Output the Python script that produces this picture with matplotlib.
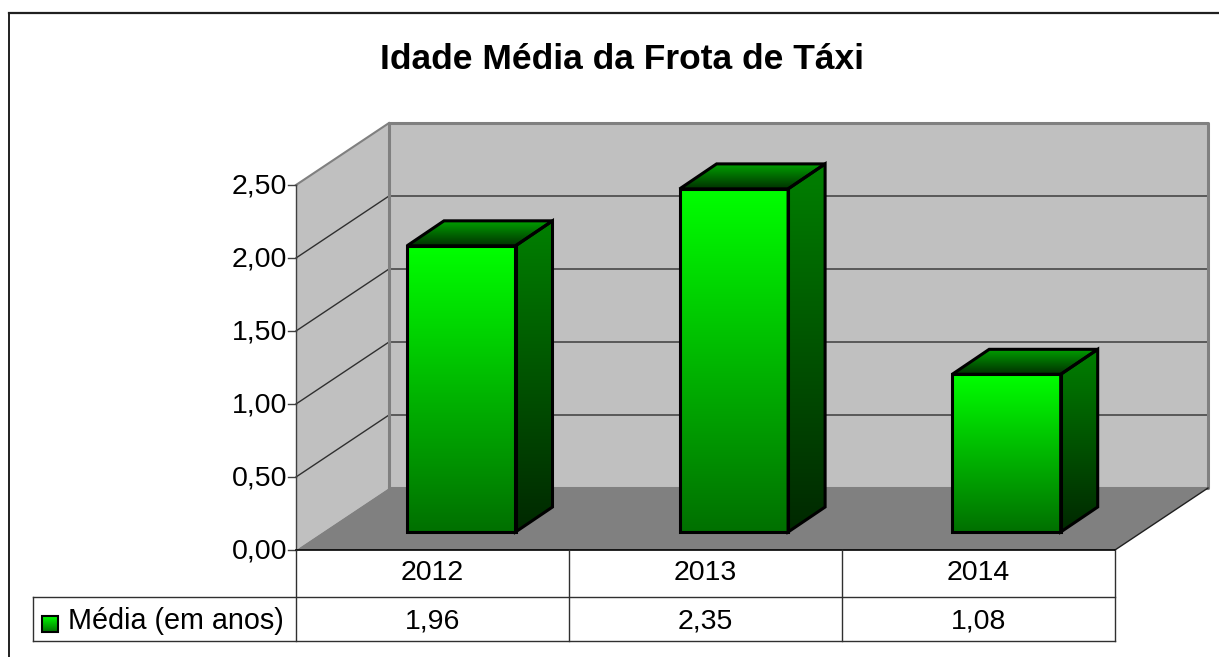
import numpy as np
import matplotlib
matplotlib.use('Agg')
from matplotlib import pyplot as plt
from matplotlib.colors import LinearSegmentedColormap
from matplotlib.patches import Polygon

categories = ['2012', '2013', '2014']
values = [1.96, 2.35, 1.08]
value_labels = ['1,96', '2,35', '1,08']
ticks = [0.0, 0.5, 1.0, 1.5, 2.0, 2.5]
tick_labels = ['0,00', '0,50', '1,00', '1,50', '2,00', '2,50']
series_name = 'Média (em anos)'
title = 'Idade Média da Frota de Táxi'

plt.rcParams['font.family'] = ['Liberation Sans', 'DejaVu Sans']

W, H = 1219, 657
PX_X = 273.0  # pixels per category
PX_Y = 146.0  # pixels per value unit
LEFT, ZERO = 296, 550
FS = 20.5


def dx(px):
    return px / PX_X


def dy(px):
    return px / PX_Y


fig = plt.figure(figsize=(W / 100, H / 100), dpi=100)
ax = fig.add_axes([0, 0, 1, 1])
xlim = (-LEFT / PX_X, (W - LEFT) / PX_X)
ylim = (-(H - ZERO) / PX_Y, ZERO / PX_Y)
ax.axis('off')

# depth of the floor and of the bars
wall_dx, wall_dy = dx(93), dy(62)
bar_dx, bar_dy = dx(37), dy(25)
off_y = dy(18)
bar_w = dx(108.5)
n = len(categories)
top = ticks[-1]

ax.add_patch(Polygon([(0, 0), (wall_dx, wall_dy), (wall_dx, top + wall_dy), (0, top)],
                     fc='#c0c0c0', ec='none', zorder=1))
ax.add_patch(Polygon([(wall_dx, wall_dy), (n + wall_dx, wall_dy), (n + wall_dx, top + wall_dy),
                      (wall_dx, top + wall_dy)], fc='#c0c0c0', ec='none', zorder=1))
ax.add_patch(Polygon([(0, 0), (n, 0), (n + wall_dx, wall_dy), (wall_dx, wall_dy)],
                     fc='#808080', ec='none', zorder=1))

# gridlines
for t in ticks[1:-1]:
    ax.plot([0, wall_dx, n + wall_dx], [t, t + wall_dy, t + wall_dy], color='#303030', lw=1.0, zorder=2)
# wall edges
ax.plot([0, wall_dx], [top, top + wall_dy], color='#808080', lw=1.5, zorder=2)
ax.plot([wall_dx, wall_dx, n + wall_dx, n + wall_dx, wall_dx],
        [wall_dy, top + wall_dy, top + wall_dy, wall_dy, wall_dy],
        color='#808080', lw=2.2, zorder=2)
ax.plot([n, n + wall_dx], [0, wall_dy], color='#202020', lw=1.0, zorder=2)


def grad(poly, c_top, c_bottom, extent, z, lw=2.2):
    cmap = LinearSegmentedColormap.from_list('g', [c_top, c_bottom])
    im = ax.imshow(np.linspace(0, 1, 256).reshape(-1, 1), cmap=cmap, aspect='auto', extent=extent,
                   origin='upper', zorder=z)
    patch = Polygon(poly, transform=ax.transData, fc='none', ec='none')
    ax.add_patch(patch)
    im.set_clip_path(patch)
    ax.add_patch(Polygon(poly, fc='none', ec='black', lw=lw, joinstyle='miter', zorder=z + 0.1))


for i, v in enumerate(values):
    x0 = i + dx(111) - dx(0.4) * i
    x1 = x0 + bar_w
    y0 = off_y
    y1 = off_y + v
    side = [(x1, y0), (x1 + bar_dx, y0 + bar_dy), (x1 + bar_dx, y1 + bar_dy), (x1, y1)]
    roof = [(x0, y1), (x0 + bar_dx, y1 + bar_dy), (x1 + bar_dx, y1 + bar_dy), (x1, y1)]
    front = [(x0, y0), (x1, y0), (x1, y1), (x0, y1)]
    grad(side, '#008000', '#002800', (x1, x1 + bar_dx, y0, y1 + bar_dy), 3 + i)
    grad(roof, '#00a000', '#003000', (x0, x1 + bar_dx, y1, y1 + bar_dy), 3 + i)
    grad(front, '#00ff00', '#007000', (x0, x1, y0, y1), 3 + i)

# value axis
ax.plot([0, 0], [0, top], color='#404040', lw=1.0, zorder=2)
for t, lab in zip(ticks, tick_labels):
    ax.plot([-dx(8), 0], [t, t], color='#404040', lw=1.0, zorder=2)
    ax.text(-dx(9), t + dy(1.5), lab, ha='right', va='center_baseline', fontsize=FS, color='black')

# data table
row1, row2, row3 = 0, -dy(47), -dy(91)
leg_left = -dx(263)
ax.plot([0, n], [row1, row1], color='black', lw=1.2, zorder=6)
ax.plot([leg_left, n], [row2, row2], color='#303030', lw=1.0, zorder=6)
ax.plot([leg_left, n], [row3, row3], color='#303030', lw=1.0, zorder=6)
ax.plot([leg_left, leg_left], [row2, row3], color='#303030', lw=1.0, zorder=6)
for i in range(n + 1):
    ax.plot([i, i], [row1, row3], color='#303030', lw=1.0, zorder=6)
for i, (cat, lab) in enumerate(zip(categories, value_labels)):
    ax.text(i + 0.5, (row1 + row2) / 2 + dy(3), cat, ha='center', va='center_baseline', fontsize=FS)
    ax.text(i + 0.5, (row2 + row3) / 2 + dy(1), lab, ha='center', va='center_baseline', fontsize=FS)
ax.text(-dx(228.5), (row2 + row3) / 2 + dy(1), series_name, ha='left', va='center_baseline', fontsize=FS + 0.2)

# legend key
key_x0, key_x1 = -dx(254), -dx(238)
key_y0, key_y1 = -dy(82), -dy(66)
grad([(key_x0, key_y0), (key_x1, key_y0), (key_x1, key_y1), (key_x0, key_y1)], '#00ff00', '#007000',
     (key_x0, key_x1, key_y0, key_y1), 7, lw=1.5)

ax.text(xlim[0] + dx(622), ylim[1] - dy(56), title, ha='center', va='center_baseline', fontsize=25.5,
        fontweight='bold')

# chart border
ax.plot([xlim[0] + dx(8.5), xlim[0] + dx(8.5)], [ylim[0], ylim[1] - dy(13)], color='#202020', lw=1.4, zorder=8)
ax.plot([xlim[0] + dx(8.5), xlim[1]], [ylim[1] - dy(13), ylim[1] - dy(13)], color='#202020', lw=1.6, zorder=8)

ax.set_xlim(xlim)
ax.set_ylim(ylim)
fig.savefig('out.png', dpi=100, facecolor='white')
